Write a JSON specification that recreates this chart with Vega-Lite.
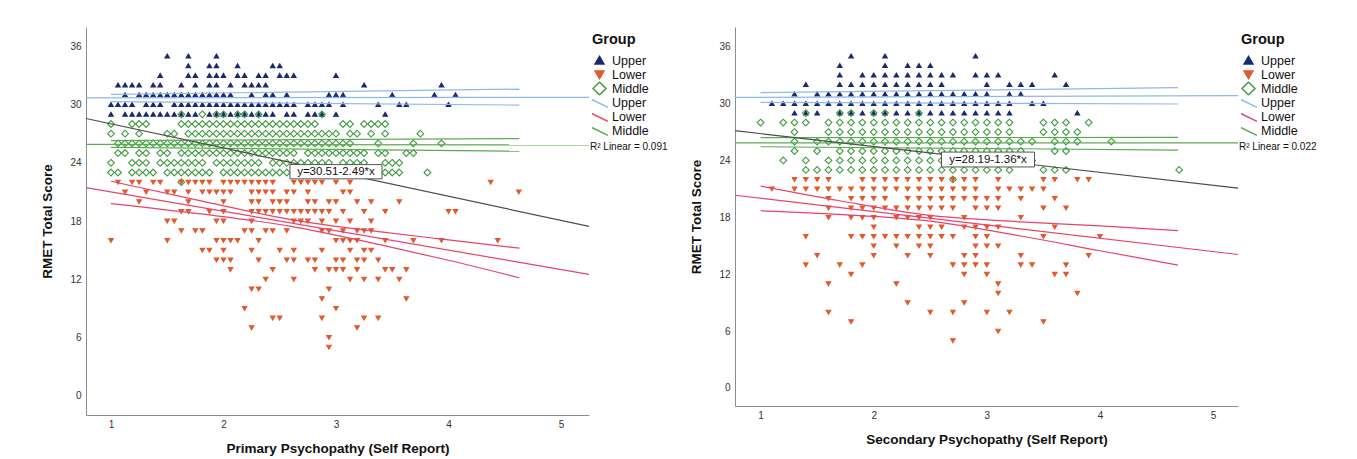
{
"$schema":"https://vega.github.io/schema/vega-lite/v6.json",
"padding":{"left":40,"top":27,"right":5,"bottom":5},
"config":{
 "font":"Liberation Sans",
 "view":{"stroke":null},
 "concat":{"spacing":21},
 "axis":{"domainColor":"#8c8c8c","domainWidth":1,"ticks":false,"grid":false,"labelFontSize":10,"labelColor":"#333333","titleFontSize":13.5,"titleFontWeight":"bold","titleColor":"#111111","labelFont":"Liberation Sans","titleFont":"Liberation Sans"},
 "legend":{"titleFontSize":14.5,"titleFontWeight":"bold","titleColor":"#111111","labelFontSize":12.5,"labelColor":"#111111","symbolSize":169,"symbolStrokeWidth":1.5,"clipHeight":14,"rowPadding":0,"titlePadding":6,"padding":6,"offset":-6,"labelOffset":5,"labelFont":"Liberation Sans","titleFont":"Liberation Sans"}
},
"datasets":{
"pri":[
{"x":1.5,"y":35,"g":"Upper"},{"x":1.6875,"y":35,"g":"Upper"},{"x":1.9375,"y":35,"g":"Upper"},
{"x":1.6875,"y":34,"g":"Upper"},{"x":1.875,"y":34,"g":"Upper"},{"x":1.9375,"y":34,"g":"Upper"},{"x":2.125,"y":34,"g":"Upper"},{"x":2.4375,"y":34,"g":"Upper"},{"x":2.5,"y":34,"g":"Upper"},
{"x":1.4375,"y":33,"g":"Upper"},{"x":1.6875,"y":33,"g":"Upper"},{"x":1.75,"y":33,"g":"Upper"},{"x":1.875,"y":33,"g":"Upper"},{"x":1.9375,"y":33,"g":"Upper"},{"x":2,"y":33,"g":"Upper"},{"x":2.125,"y":33,"g":"Upper"},{"x":2.1875,"y":33,"g":"Upper"},{"x":2.3125,"y":33,"g":"Upper"},{"x":2.375,"y":33,"g":"Upper"},{"x":2.5,"y":33,"g":"Upper"},{"x":2.5625,"y":33,"g":"Upper"},{"x":2.625,"y":33,"g":"Upper"},{"x":3,"y":33,"g":"Upper"},
{"x":1.0625,"y":32,"g":"Upper"},{"x":1.125,"y":32,"g":"Upper"},{"x":1.1875,"y":32,"g":"Upper"},{"x":1.25,"y":32,"g":"Upper"},{"x":1.375,"y":32,"g":"Upper"},{"x":1.4375,"y":32,"g":"Upper"},{"x":1.625,"y":32,"g":"Upper"},{"x":1.75,"y":32,"g":"Upper"},{"x":1.875,"y":32,"g":"Upper"},{"x":1.9375,"y":32,"g":"Upper"},{"x":2.0625,"y":32,"g":"Upper"},{"x":2.1875,"y":32,"g":"Upper"},{"x":2.25,"y":32,"g":"Upper"},{"x":2.3125,"y":32,"g":"Upper"},{"x":2.375,"y":32,"g":"Upper"},{"x":3.25,"y":32,"g":"Upper"},{"x":3.9375,"y":32,"g":"Upper"},
{"x":1.125,"y":31,"g":"Upper"},{"x":1.25,"y":31,"g":"Upper"},{"x":1.3125,"y":31,"g":"Upper"},{"x":1.375,"y":31,"g":"Upper"},{"x":1.4375,"y":31,"g":"Upper"},{"x":1.5,"y":31,"g":"Upper"},{"x":1.5625,"y":31,"g":"Upper"},{"x":1.625,"y":31,"g":"Upper"},{"x":1.6875,"y":31,"g":"Upper"},{"x":1.75,"y":31,"g":"Upper"},{"x":1.8125,"y":31,"g":"Upper"},{"x":1.875,"y":31,"g":"Upper"},{"x":1.9375,"y":31,"g":"Upper"},{"x":2,"y":31,"g":"Upper"},{"x":2.0625,"y":31,"g":"Upper"},{"x":2.25,"y":31,"g":"Upper"},{"x":2.375,"y":31,"g":"Upper"},{"x":2.4375,"y":31,"g":"Upper"},{"x":2.5625,"y":31,"g":"Upper"},{"x":2.9375,"y":31,"g":"Upper"},{"x":3,"y":31,"g":"Upper"},{"x":3.0625,"y":31,"g":"Upper"},{"x":3.5,"y":31,"g":"Upper"},{"x":3.875,"y":31,"g":"Upper"},{"x":4.0625,"y":31,"g":"Upper"},
{"x":1,"y":30,"g":"Upper"},{"x":1.0625,"y":30,"g":"Upper"},{"x":1.125,"y":30,"g":"Upper"},{"x":1.1875,"y":30,"g":"Upper"},{"x":1.3125,"y":30,"g":"Upper"},{"x":1.375,"y":30,"g":"Upper"},{"x":1.4375,"y":30,"g":"Upper"},{"x":1.5625,"y":30,"g":"Upper"},{"x":1.625,"y":30,"g":"Upper"},{"x":1.6875,"y":30,"g":"Upper"},{"x":1.75,"y":30,"g":"Upper"},{"x":1.8125,"y":30,"g":"Upper"},{"x":1.875,"y":30,"g":"Upper"},{"x":1.9375,"y":30,"g":"Upper"},{"x":2,"y":30,"g":"Upper"},{"x":2.0625,"y":30,"g":"Upper"},{"x":2.125,"y":30,"g":"Upper"},{"x":2.1875,"y":30,"g":"Upper"},{"x":2.25,"y":30,"g":"Upper"},{"x":2.3125,"y":30,"g":"Upper"},{"x":2.375,"y":30,"g":"Upper"},{"x":2.4375,"y":30,"g":"Upper"},{"x":2.5,"y":30,"g":"Upper"},{"x":2.5625,"y":30,"g":"Upper"},{"x":2.625,"y":30,"g":"Upper"},{"x":2.75,"y":30,"g":"Upper"},{"x":2.8125,"y":30,"g":"Upper"},{"x":2.875,"y":30,"g":"Upper"},{"x":2.9375,"y":30,"g":"Upper"},{"x":3.0625,"y":30,"g":"Upper"},{"x":3.375,"y":30,"g":"Upper"},{"x":3.5625,"y":30,"g":"Upper"},{"x":3.625,"y":30,"g":"Upper"},{"x":4,"y":30,"g":"Upper"},
{"x":1,"y":29,"g":"Upper"},{"x":1.125,"y":29,"g":"Upper"},{"x":1.1875,"y":29,"g":"Upper"},{"x":1.25,"y":29,"g":"Upper"},{"x":1.3125,"y":29,"g":"Upper"},{"x":1.375,"y":29,"g":"Upper"},{"x":1.4375,"y":29,"g":"Upper"},{"x":1.5,"y":29,"g":"Upper"},{"x":1.5625,"y":29,"g":"Upper"},{"x":1.625,"y":29,"g":"Upper"},{"x":1.6875,"y":29,"g":"Upper"},{"x":1.75,"y":29,"g":"Upper"},{"x":1.875,"y":29,"g":"Upper"},{"x":1.9375,"y":29,"g":"Upper"},{"x":2,"y":29,"g":"Upper"},{"x":2.0625,"y":29,"g":"Upper"},{"x":2.125,"y":29,"g":"Upper"},{"x":2.1875,"y":29,"g":"Upper"},{"x":2.25,"y":29,"g":"Upper"},{"x":2.3125,"y":29,"g":"Upper"},{"x":2.375,"y":29,"g":"Upper"},{"x":2.4375,"y":29,"g":"Upper"},{"x":2.5625,"y":29,"g":"Upper"},{"x":2.625,"y":29,"g":"Upper"},{"x":2.75,"y":29,"g":"Upper"},{"x":2.8125,"y":29,"g":"Upper"},{"x":2.875,"y":29,"g":"Upper"},{"x":3,"y":29,"g":"Upper"},{"x":3.4375,"y":29,"g":"Upper"},
{"x":1.625,"y":29,"g":"Middle"},{"x":1.8125,"y":29,"g":"Middle"},{"x":1.9375,"y":29,"g":"Middle"},{"x":2,"y":29,"g":"Middle"},{"x":2.125,"y":29,"g":"Middle"},{"x":2.1875,"y":29,"g":"Middle"},{"x":2.3125,"y":29,"g":"Middle"},{"x":2.875,"y":29,"g":"Middle"},
{"x":1,"y":28,"g":"Middle"},{"x":1.1875,"y":28,"g":"Middle"},{"x":1.25,"y":28,"g":"Middle"},{"x":1.3125,"y":28,"g":"Middle"},{"x":1.625,"y":28,"g":"Middle"},{"x":1.6875,"y":28,"g":"Middle"},{"x":1.75,"y":28,"g":"Middle"},{"x":1.8125,"y":28,"g":"Middle"},{"x":1.875,"y":28,"g":"Middle"},{"x":1.9375,"y":28,"g":"Middle"},{"x":2,"y":28,"g":"Middle"},{"x":2.0625,"y":28,"g":"Middle"},{"x":2.125,"y":28,"g":"Middle"},{"x":2.1875,"y":28,"g":"Middle"},{"x":2.25,"y":28,"g":"Middle"},{"x":2.3125,"y":28,"g":"Middle"},{"x":2.375,"y":28,"g":"Middle"},{"x":2.4375,"y":28,"g":"Middle"},{"x":2.5,"y":28,"g":"Middle"},{"x":2.5625,"y":28,"g":"Middle"},{"x":2.625,"y":28,"g":"Middle"},{"x":2.6875,"y":28,"g":"Middle"},{"x":2.75,"y":28,"g":"Middle"},{"x":2.8125,"y":28,"g":"Middle"},{"x":3.0625,"y":28,"g":"Middle"},{"x":3.125,"y":28,"g":"Middle"},{"x":3.25,"y":28,"g":"Middle"},{"x":3.3125,"y":28,"g":"Middle"},{"x":3.375,"y":28,"g":"Middle"},{"x":3.4375,"y":28,"g":"Middle"},
{"x":1,"y":27,"g":"Middle"},{"x":1.125,"y":27,"g":"Middle"},{"x":1.25,"y":27,"g":"Middle"},{"x":1.5,"y":27,"g":"Middle"},{"x":1.5625,"y":27,"g":"Middle"},{"x":1.6875,"y":27,"g":"Middle"},{"x":1.75,"y":27,"g":"Middle"},{"x":1.8125,"y":27,"g":"Middle"},{"x":1.875,"y":27,"g":"Middle"},{"x":1.9375,"y":27,"g":"Middle"},{"x":2,"y":27,"g":"Middle"},{"x":2.0625,"y":27,"g":"Middle"},{"x":2.125,"y":27,"g":"Middle"},{"x":2.1875,"y":27,"g":"Middle"},{"x":2.25,"y":27,"g":"Middle"},{"x":2.3125,"y":27,"g":"Middle"},{"x":2.375,"y":27,"g":"Middle"},{"x":2.4375,"y":27,"g":"Middle"},{"x":2.5,"y":27,"g":"Middle"},{"x":2.5625,"y":27,"g":"Middle"},{"x":2.625,"y":27,"g":"Middle"},{"x":2.6875,"y":27,"g":"Middle"},{"x":2.75,"y":27,"g":"Middle"},{"x":2.8125,"y":27,"g":"Middle"},{"x":2.875,"y":27,"g":"Middle"},{"x":2.9375,"y":27,"g":"Middle"},{"x":3,"y":27,"g":"Middle"},{"x":3.125,"y":27,"g":"Middle"},{"x":3.1875,"y":27,"g":"Middle"},{"x":3.3125,"y":27,"g":"Middle"},{"x":3.4375,"y":27,"g":"Middle"},{"x":3.75,"y":27,"g":"Middle"},
{"x":1.0625,"y":26,"g":"Middle"},{"x":1.125,"y":26,"g":"Middle"},{"x":1.1875,"y":26,"g":"Middle"},{"x":1.25,"y":26,"g":"Middle"},{"x":1.3125,"y":26,"g":"Middle"},{"x":1.375,"y":26,"g":"Middle"},{"x":1.4375,"y":26,"g":"Middle"},{"x":1.5,"y":26,"g":"Middle"},{"x":1.5625,"y":26,"g":"Middle"},{"x":1.625,"y":26,"g":"Middle"},{"x":1.6875,"y":26,"g":"Middle"},{"x":1.75,"y":26,"g":"Middle"},{"x":1.8125,"y":26,"g":"Middle"},{"x":1.875,"y":26,"g":"Middle"},{"x":1.9375,"y":26,"g":"Middle"},{"x":2,"y":26,"g":"Middle"},{"x":2.0625,"y":26,"g":"Middle"},{"x":2.125,"y":26,"g":"Middle"},{"x":2.1875,"y":26,"g":"Middle"},{"x":2.25,"y":26,"g":"Middle"},{"x":2.3125,"y":26,"g":"Middle"},{"x":2.375,"y":26,"g":"Middle"},{"x":2.4375,"y":26,"g":"Middle"},{"x":2.5,"y":26,"g":"Middle"},{"x":2.5625,"y":26,"g":"Middle"},{"x":2.625,"y":26,"g":"Middle"},{"x":2.6875,"y":26,"g":"Middle"},{"x":2.75,"y":26,"g":"Middle"},{"x":2.8125,"y":26,"g":"Middle"},{"x":2.875,"y":26,"g":"Middle"},{"x":2.9375,"y":26,"g":"Middle"},{"x":3,"y":26,"g":"Middle"},{"x":3.0625,"y":26,"g":"Middle"},{"x":3.125,"y":26,"g":"Middle"},{"x":3.375,"y":26,"g":"Middle"},{"x":3.6875,"y":26,"g":"Middle"},{"x":3.9375,"y":26,"g":"Middle"},
{"x":1.0625,"y":25,"g":"Middle"},{"x":1.125,"y":25,"g":"Middle"},{"x":1.25,"y":25,"g":"Middle"},{"x":1.3125,"y":25,"g":"Middle"},{"x":1.4375,"y":25,"g":"Middle"},{"x":1.5,"y":25,"g":"Middle"},{"x":1.625,"y":25,"g":"Middle"},{"x":1.6875,"y":25,"g":"Middle"},{"x":1.75,"y":25,"g":"Middle"},{"x":1.8125,"y":25,"g":"Middle"},{"x":1.875,"y":25,"g":"Middle"},{"x":1.9375,"y":25,"g":"Middle"},{"x":2,"y":25,"g":"Middle"},{"x":2.0625,"y":25,"g":"Middle"},{"x":2.125,"y":25,"g":"Middle"},{"x":2.1875,"y":25,"g":"Middle"},{"x":2.25,"y":25,"g":"Middle"},{"x":2.3125,"y":25,"g":"Middle"},{"x":2.375,"y":25,"g":"Middle"},{"x":2.4375,"y":25,"g":"Middle"},{"x":2.5,"y":25,"g":"Middle"},{"x":2.5625,"y":25,"g":"Middle"},{"x":2.625,"y":25,"g":"Middle"},{"x":2.75,"y":25,"g":"Middle"},{"x":2.8125,"y":25,"g":"Middle"},{"x":2.875,"y":25,"g":"Middle"},{"x":2.9375,"y":25,"g":"Middle"},{"x":3,"y":25,"g":"Middle"},{"x":3.0625,"y":25,"g":"Middle"},{"x":3.125,"y":25,"g":"Middle"},{"x":3.1875,"y":25,"g":"Middle"},{"x":3.25,"y":25,"g":"Middle"},{"x":3.375,"y":25,"g":"Middle"},{"x":3.4375,"y":25,"g":"Middle"},{"x":3.625,"y":25,"g":"Middle"},{"x":3.6875,"y":25,"g":"Middle"},
{"x":1,"y":24,"g":"Middle"},{"x":1.1875,"y":24,"g":"Middle"},{"x":1.25,"y":24,"g":"Middle"},{"x":1.3125,"y":24,"g":"Middle"},{"x":1.4375,"y":24,"g":"Middle"},{"x":1.5,"y":24,"g":"Middle"},{"x":1.5625,"y":24,"g":"Middle"},{"x":1.625,"y":24,"g":"Middle"},{"x":1.6875,"y":24,"g":"Middle"},{"x":1.75,"y":24,"g":"Middle"},{"x":1.8125,"y":24,"g":"Middle"},{"x":1.9375,"y":24,"g":"Middle"},{"x":2,"y":24,"g":"Middle"},{"x":2.0625,"y":24,"g":"Middle"},{"x":2.125,"y":24,"g":"Middle"},{"x":2.1875,"y":24,"g":"Middle"},{"x":2.25,"y":24,"g":"Middle"},{"x":2.3125,"y":24,"g":"Middle"},{"x":2.4375,"y":24,"g":"Middle"},{"x":2.5,"y":24,"g":"Middle"},{"x":2.5625,"y":24,"g":"Middle"},{"x":2.625,"y":24,"g":"Middle"},{"x":2.6875,"y":24,"g":"Middle"},{"x":2.75,"y":24,"g":"Middle"},{"x":2.8125,"y":24,"g":"Middle"},{"x":2.875,"y":24,"g":"Middle"},{"x":2.9375,"y":24,"g":"Middle"},{"x":3.0625,"y":24,"g":"Middle"},{"x":3.125,"y":24,"g":"Middle"},{"x":3.1875,"y":24,"g":"Middle"},{"x":3.25,"y":24,"g":"Middle"},{"x":3.4375,"y":24,"g":"Middle"},{"x":3.5,"y":24,"g":"Middle"},{"x":3.5625,"y":24,"g":"Middle"},
{"x":1,"y":23,"g":"Middle"},{"x":1.0625,"y":23,"g":"Middle"},{"x":1.1875,"y":23,"g":"Middle"},{"x":1.25,"y":23,"g":"Middle"},{"x":1.3125,"y":23,"g":"Middle"},{"x":1.375,"y":23,"g":"Middle"},{"x":1.5,"y":23,"g":"Middle"},{"x":1.5625,"y":23,"g":"Middle"},{"x":1.625,"y":23,"g":"Middle"},{"x":1.6875,"y":23,"g":"Middle"},{"x":1.75,"y":23,"g":"Middle"},{"x":1.8125,"y":23,"g":"Middle"},{"x":1.875,"y":23,"g":"Middle"},{"x":2,"y":23,"g":"Middle"},{"x":2.0625,"y":23,"g":"Middle"},{"x":2.125,"y":23,"g":"Middle"},{"x":2.1875,"y":23,"g":"Middle"},{"x":2.25,"y":23,"g":"Middle"},{"x":2.3125,"y":23,"g":"Middle"},{"x":2.375,"y":23,"g":"Middle"},{"x":2.4375,"y":23,"g":"Middle"},{"x":2.5,"y":23,"g":"Middle"},{"x":2.5625,"y":23,"g":"Middle"},{"x":2.625,"y":23,"g":"Middle"},{"x":2.6875,"y":23,"g":"Middle"},{"x":2.75,"y":23,"g":"Middle"},{"x":2.8125,"y":23,"g":"Middle"},{"x":2.875,"y":23,"g":"Middle"},{"x":2.9375,"y":23,"g":"Middle"},{"x":3,"y":23,"g":"Middle"},{"x":3.125,"y":23,"g":"Middle"},{"x":3.4375,"y":23,"g":"Middle"},{"x":3.5,"y":23,"g":"Middle"},{"x":3.5625,"y":23,"g":"Middle"},{"x":3.8125,"y":23,"g":"Middle"},
{"x":1.625,"y":22,"g":"Middle"},
{"x":1.0625,"y":22,"g":"Lower"},{"x":1.1875,"y":22,"g":"Lower"},{"x":1.25,"y":22,"g":"Lower"},{"x":1.375,"y":22,"g":"Lower"},{"x":1.4375,"y":22,"g":"Lower"},{"x":1.625,"y":22,"g":"Lower"},{"x":1.6875,"y":22,"g":"Lower"},{"x":1.75,"y":22,"g":"Lower"},{"x":1.8125,"y":22,"g":"Lower"},{"x":1.875,"y":22,"g":"Lower"},{"x":2,"y":22,"g":"Lower"},{"x":2.0625,"y":22,"g":"Lower"},{"x":2.125,"y":22,"g":"Lower"},{"x":2.1875,"y":22,"g":"Lower"},{"x":2.25,"y":22,"g":"Lower"},{"x":2.3125,"y":22,"g":"Lower"},{"x":2.375,"y":22,"g":"Lower"},{"x":2.4375,"y":22,"g":"Lower"},{"x":2.625,"y":22,"g":"Lower"},{"x":2.6875,"y":22,"g":"Lower"},{"x":2.75,"y":22,"g":"Lower"},{"x":2.8125,"y":22,"g":"Lower"},{"x":2.875,"y":22,"g":"Lower"},{"x":3,"y":22,"g":"Lower"},{"x":3.125,"y":22,"g":"Lower"},{"x":4.375,"y":22,"g":"Lower"},
{"x":1.125,"y":21,"g":"Lower"},{"x":1.3125,"y":21,"g":"Lower"},{"x":1.5,"y":21,"g":"Lower"},{"x":1.5625,"y":21,"g":"Lower"},{"x":1.6875,"y":21,"g":"Lower"},{"x":1.8125,"y":21,"g":"Lower"},{"x":1.875,"y":21,"g":"Lower"},{"x":1.9375,"y":21,"g":"Lower"},{"x":2,"y":21,"g":"Lower"},{"x":2.0625,"y":21,"g":"Lower"},{"x":2.25,"y":21,"g":"Lower"},{"x":2.3125,"y":21,"g":"Lower"},{"x":2.375,"y":21,"g":"Lower"},{"x":2.4375,"y":21,"g":"Lower"},{"x":2.5625,"y":21,"g":"Lower"},{"x":2.625,"y":21,"g":"Lower"},{"x":2.75,"y":21,"g":"Lower"},{"x":3.0625,"y":21,"g":"Lower"},{"x":3.125,"y":21,"g":"Lower"},{"x":4.625,"y":21,"g":"Lower"},
{"x":1.25,"y":20,"g":"Lower"},{"x":1.6875,"y":20,"g":"Lower"},{"x":2,"y":20,"g":"Lower"},{"x":2.25,"y":20,"g":"Lower"},{"x":2.3125,"y":20,"g":"Lower"},{"x":2.4375,"y":20,"g":"Lower"},{"x":2.5,"y":20,"g":"Lower"},{"x":2.5625,"y":20,"g":"Lower"},{"x":2.75,"y":20,"g":"Lower"},{"x":2.8125,"y":20,"g":"Lower"},{"x":2.9375,"y":20,"g":"Lower"},{"x":3,"y":20,"g":"Lower"},{"x":3.1875,"y":20,"g":"Lower"},{"x":3.3125,"y":20,"g":"Lower"},{"x":3.5625,"y":20,"g":"Lower"},
{"x":1.625,"y":19,"g":"Lower"},{"x":1.6875,"y":19,"g":"Lower"},{"x":1.875,"y":19,"g":"Lower"},{"x":2,"y":19,"g":"Lower"},{"x":2.25,"y":19,"g":"Lower"},{"x":2.3125,"y":19,"g":"Lower"},{"x":2.375,"y":19,"g":"Lower"},{"x":2.4375,"y":19,"g":"Lower"},{"x":2.5,"y":19,"g":"Lower"},{"x":2.5625,"y":19,"g":"Lower"},{"x":2.625,"y":19,"g":"Lower"},{"x":2.6875,"y":19,"g":"Lower"},{"x":2.75,"y":19,"g":"Lower"},{"x":2.8125,"y":19,"g":"Lower"},{"x":2.875,"y":19,"g":"Lower"},{"x":2.9375,"y":19,"g":"Lower"},{"x":3.0625,"y":19,"g":"Lower"},{"x":3.25,"y":19,"g":"Lower"},{"x":3.4375,"y":19,"g":"Lower"},{"x":4,"y":19,"g":"Lower"},{"x":4.0625,"y":19,"g":"Lower"},
{"x":1.5,"y":18,"g":"Lower"},{"x":1.5625,"y":18,"g":"Lower"},{"x":1.9375,"y":18,"g":"Lower"},{"x":2,"y":18,"g":"Lower"},{"x":2.25,"y":18,"g":"Lower"},{"x":2.625,"y":18,"g":"Lower"},{"x":2.6875,"y":18,"g":"Lower"},{"x":2.75,"y":18,"g":"Lower"},{"x":2.875,"y":18,"g":"Lower"},{"x":3,"y":18,"g":"Lower"},{"x":3.125,"y":18,"g":"Lower"},{"x":3.3125,"y":18,"g":"Lower"},
{"x":1.625,"y":17,"g":"Lower"},{"x":1.75,"y":17,"g":"Lower"},{"x":1.8125,"y":17,"g":"Lower"},{"x":2.1875,"y":17,"g":"Lower"},{"x":2.25,"y":17,"g":"Lower"},{"x":2.375,"y":17,"g":"Lower"},{"x":2.4375,"y":17,"g":"Lower"},{"x":2.5625,"y":17,"g":"Lower"},{"x":2.875,"y":17,"g":"Lower"},{"x":2.9375,"y":17,"g":"Lower"},{"x":3.0625,"y":17,"g":"Lower"},{"x":3.1875,"y":17,"g":"Lower"},{"x":3.25,"y":17,"g":"Lower"},{"x":3.3125,"y":17,"g":"Lower"},
{"x":1,"y":16,"g":"Lower"},{"x":1.5,"y":16,"g":"Lower"},{"x":1.9375,"y":16,"g":"Lower"},{"x":2,"y":16,"g":"Lower"},{"x":2.0625,"y":16,"g":"Lower"},{"x":2.125,"y":16,"g":"Lower"},{"x":2.3125,"y":16,"g":"Lower"},{"x":3,"y":16,"g":"Lower"},{"x":3.0625,"y":16,"g":"Lower"},{"x":3.125,"y":16,"g":"Lower"},{"x":3.1875,"y":16,"g":"Lower"},{"x":3.4375,"y":16,"g":"Lower"},{"x":3.6875,"y":16,"g":"Lower"},{"x":3.9375,"y":16,"g":"Lower"},{"x":4.4375,"y":16,"g":"Lower"},
{"x":1.8125,"y":15,"g":"Lower"},{"x":1.875,"y":15,"g":"Lower"},{"x":2,"y":15,"g":"Lower"},{"x":2.25,"y":15,"g":"Lower"},{"x":2.5,"y":15,"g":"Lower"},{"x":2.625,"y":15,"g":"Lower"},{"x":2.875,"y":15,"g":"Lower"},{"x":3.125,"y":15,"g":"Lower"},{"x":3.25,"y":15,"g":"Lower"},{"x":3.3125,"y":15,"g":"Lower"},
{"x":1.9375,"y":14,"g":"Lower"},{"x":2,"y":14,"g":"Lower"},{"x":2.0625,"y":14,"g":"Lower"},{"x":2.3125,"y":14,"g":"Lower"},{"x":2.5625,"y":14,"g":"Lower"},{"x":2.625,"y":14,"g":"Lower"},{"x":2.75,"y":14,"g":"Lower"},{"x":2.8125,"y":14,"g":"Lower"},{"x":3,"y":14,"g":"Lower"},{"x":3.0625,"y":14,"g":"Lower"},{"x":3.1875,"y":14,"g":"Lower"},{"x":3.25,"y":14,"g":"Lower"},{"x":3.375,"y":14,"g":"Lower"},
{"x":2.0625,"y":13,"g":"Lower"},{"x":2.4375,"y":13,"g":"Lower"},{"x":2.8125,"y":13,"g":"Lower"},{"x":2.9375,"y":13,"g":"Lower"},{"x":3,"y":13,"g":"Lower"},{"x":3.0625,"y":13,"g":"Lower"},{"x":3.1875,"y":13,"g":"Lower"},{"x":3.4375,"y":13,"g":"Lower"},{"x":3.5,"y":13,"g":"Lower"},{"x":3.625,"y":13,"g":"Lower"},
{"x":2.375,"y":12,"g":"Lower"},{"x":2.625,"y":12,"g":"Lower"},{"x":3.125,"y":12,"g":"Lower"},{"x":3.25,"y":12,"g":"Lower"},{"x":3.375,"y":12,"g":"Lower"},{"x":3.5625,"y":12,"g":"Lower"},
{"x":2.25,"y":11,"g":"Lower"},{"x":2.3125,"y":11,"g":"Lower"},{"x":2.9375,"y":11,"g":"Lower"},
{"x":2.875,"y":10,"g":"Lower"},{"x":3.625,"y":10,"g":"Lower"},
{"x":2.1875,"y":9,"g":"Lower"},{"x":3,"y":9,"g":"Lower"},
{"x":2.4375,"y":8,"g":"Lower"},{"x":2.5,"y":8,"g":"Lower"},{"x":2.875,"y":8,"g":"Lower"},{"x":3.25,"y":8,"g":"Lower"},{"x":3.375,"y":8,"g":"Lower"},
{"x":2.25,"y":7,"g":"Lower"},{"x":3.1875,"y":7,"g":"Lower"},
{"x":2.9375,"y":6,"g":"Lower"},{"x":2.9375,"y":5,"g":"Lower"}
],
"sec":[
{"x":1.8,"y":35,"g":"Upper"},{"x":2.1,"y":35,"g":"Upper"},{"x":2.9,"y":35,"g":"Upper"},
{"x":1.7,"y":34,"g":"Upper"},{"x":2.1,"y":34,"g":"Upper"},{"x":2.3,"y":34,"g":"Upper"},{"x":2.4,"y":34,"g":"Upper"},{"x":2.5,"y":34,"g":"Upper"},
{"x":1.7,"y":33,"g":"Upper"},{"x":1.9,"y":33,"g":"Upper"},{"x":2.0,"y":33,"g":"Upper"},{"x":2.1,"y":33,"g":"Upper"},{"x":2.2,"y":33,"g":"Upper"},{"x":2.3,"y":33,"g":"Upper"},{"x":2.4,"y":33,"g":"Upper"},{"x":2.5,"y":33,"g":"Upper"},{"x":2.6,"y":33,"g":"Upper"},{"x":2.7,"y":33,"g":"Upper"},{"x":2.9,"y":33,"g":"Upper"},{"x":3.0,"y":33,"g":"Upper"},{"x":3.1,"y":33,"g":"Upper"},{"x":3.6,"y":33,"g":"Upper"},
{"x":1.4,"y":32,"g":"Upper"},{"x":1.7,"y":32,"g":"Upper"},{"x":1.8,"y":32,"g":"Upper"},{"x":1.9,"y":32,"g":"Upper"},{"x":2.0,"y":32,"g":"Upper"},{"x":2.1,"y":32,"g":"Upper"},{"x":2.2,"y":32,"g":"Upper"},{"x":2.3,"y":32,"g":"Upper"},{"x":2.4,"y":32,"g":"Upper"},{"x":2.5,"y":32,"g":"Upper"},{"x":2.6,"y":32,"g":"Upper"},{"x":3.0,"y":32,"g":"Upper"},{"x":3.2,"y":32,"g":"Upper"},{"x":3.3,"y":32,"g":"Upper"},{"x":3.4,"y":32,"g":"Upper"},{"x":3.7,"y":32,"g":"Upper"},
{"x":1.3,"y":31,"g":"Upper"},{"x":1.5,"y":31,"g":"Upper"},{"x":1.6,"y":31,"g":"Upper"},{"x":1.7,"y":31,"g":"Upper"},{"x":1.8,"y":31,"g":"Upper"},{"x":1.9,"y":31,"g":"Upper"},{"x":2.0,"y":31,"g":"Upper"},{"x":2.1,"y":31,"g":"Upper"},{"x":2.2,"y":31,"g":"Upper"},{"x":2.3,"y":31,"g":"Upper"},{"x":2.4,"y":31,"g":"Upper"},{"x":2.5,"y":31,"g":"Upper"},{"x":2.6,"y":31,"g":"Upper"},{"x":2.7,"y":31,"g":"Upper"},{"x":2.8,"y":31,"g":"Upper"},{"x":2.9,"y":31,"g":"Upper"},{"x":3.0,"y":31,"g":"Upper"},{"x":3.2,"y":31,"g":"Upper"},{"x":3.3,"y":31,"g":"Upper"},
{"x":1.1,"y":30,"g":"Upper"},{"x":1.2,"y":30,"g":"Upper"},{"x":1.3,"y":30,"g":"Upper"},{"x":1.4,"y":30,"g":"Upper"},{"x":1.5,"y":30,"g":"Upper"},{"x":1.6,"y":30,"g":"Upper"},{"x":1.7,"y":30,"g":"Upper"},{"x":1.8,"y":30,"g":"Upper"},{"x":1.9,"y":30,"g":"Upper"},{"x":2.0,"y":30,"g":"Upper"},{"x":2.1,"y":30,"g":"Upper"},{"x":2.2,"y":30,"g":"Upper"},{"x":2.3,"y":30,"g":"Upper"},{"x":2.4,"y":30,"g":"Upper"},{"x":2.5,"y":30,"g":"Upper"},{"x":2.6,"y":30,"g":"Upper"},{"x":2.7,"y":30,"g":"Upper"},{"x":2.8,"y":30,"g":"Upper"},{"x":2.9,"y":30,"g":"Upper"},{"x":3.0,"y":30,"g":"Upper"},{"x":3.1,"y":30,"g":"Upper"},{"x":3.2,"y":30,"g":"Upper"},{"x":3.4,"y":30,"g":"Upper"},{"x":3.5,"y":30,"g":"Upper"},
{"x":1.3,"y":29,"g":"Upper"},{"x":1.4,"y":29,"g":"Upper"},{"x":1.5,"y":29,"g":"Upper"},{"x":1.7,"y":29,"g":"Upper"},{"x":1.8,"y":29,"g":"Upper"},{"x":1.9,"y":29,"g":"Upper"},{"x":2.0,"y":29,"g":"Upper"},{"x":2.1,"y":29,"g":"Upper"},{"x":2.2,"y":29,"g":"Upper"},{"x":2.3,"y":29,"g":"Upper"},{"x":2.4,"y":29,"g":"Upper"},{"x":2.5,"y":29,"g":"Upper"},{"x":2.6,"y":29,"g":"Upper"},{"x":2.7,"y":29,"g":"Upper"},{"x":2.8,"y":29,"g":"Upper"},{"x":2.9,"y":29,"g":"Upper"},{"x":3.0,"y":29,"g":"Upper"},{"x":3.1,"y":29,"g":"Upper"},{"x":3.2,"y":29,"g":"Upper"},{"x":3.8,"y":29,"g":"Upper"},
{"x":1.4,"y":29,"g":"Middle"},{"x":1.7,"y":29,"g":"Middle"},{"x":1.8,"y":29,"g":"Middle"},{"x":2.0,"y":29,"g":"Middle"},{"x":2.1,"y":29,"g":"Middle"},{"x":2.4,"y":29,"g":"Middle"},
{"x":1.0,"y":28,"g":"Middle"},{"x":1.2,"y":28,"g":"Middle"},{"x":1.3,"y":28,"g":"Middle"},{"x":1.4,"y":28,"g":"Middle"},{"x":1.6,"y":28,"g":"Middle"},{"x":1.7,"y":28,"g":"Middle"},{"x":1.8,"y":28,"g":"Middle"},{"x":1.9,"y":28,"g":"Middle"},{"x":2.0,"y":28,"g":"Middle"},{"x":2.1,"y":28,"g":"Middle"},{"x":2.2,"y":28,"g":"Middle"},{"x":2.3,"y":28,"g":"Middle"},{"x":2.4,"y":28,"g":"Middle"},{"x":2.5,"y":28,"g":"Middle"},{"x":2.6,"y":28,"g":"Middle"},{"x":2.7,"y":28,"g":"Middle"},{"x":2.8,"y":28,"g":"Middle"},{"x":2.9,"y":28,"g":"Middle"},{"x":3.0,"y":28,"g":"Middle"},{"x":3.1,"y":28,"g":"Middle"},{"x":3.2,"y":28,"g":"Middle"},{"x":3.5,"y":28,"g":"Middle"},{"x":3.6,"y":28,"g":"Middle"},{"x":3.7,"y":28,"g":"Middle"},{"x":3.9,"y":28,"g":"Middle"},
{"x":1.3,"y":27,"g":"Middle"},{"x":1.6,"y":27,"g":"Middle"},{"x":1.7,"y":27,"g":"Middle"},{"x":1.8,"y":27,"g":"Middle"},{"x":1.9,"y":27,"g":"Middle"},{"x":2.0,"y":27,"g":"Middle"},{"x":2.1,"y":27,"g":"Middle"},{"x":2.2,"y":27,"g":"Middle"},{"x":2.3,"y":27,"g":"Middle"},{"x":2.4,"y":27,"g":"Middle"},{"x":2.5,"y":27,"g":"Middle"},{"x":2.6,"y":27,"g":"Middle"},{"x":2.7,"y":27,"g":"Middle"},{"x":2.8,"y":27,"g":"Middle"},{"x":2.9,"y":27,"g":"Middle"},{"x":3.0,"y":27,"g":"Middle"},{"x":3.1,"y":27,"g":"Middle"},{"x":3.2,"y":27,"g":"Middle"},{"x":3.5,"y":27,"g":"Middle"},{"x":3.6,"y":27,"g":"Middle"},{"x":3.7,"y":27,"g":"Middle"},{"x":3.8,"y":27,"g":"Middle"},
{"x":1.3,"y":26,"g":"Middle"},{"x":1.5,"y":26,"g":"Middle"},{"x":1.6,"y":26,"g":"Middle"},{"x":1.7,"y":26,"g":"Middle"},{"x":1.8,"y":26,"g":"Middle"},{"x":1.9,"y":26,"g":"Middle"},{"x":2.0,"y":26,"g":"Middle"},{"x":2.1,"y":26,"g":"Middle"},{"x":2.2,"y":26,"g":"Middle"},{"x":2.3,"y":26,"g":"Middle"},{"x":2.4,"y":26,"g":"Middle"},{"x":2.5,"y":26,"g":"Middle"},{"x":2.6,"y":26,"g":"Middle"},{"x":2.7,"y":26,"g":"Middle"},{"x":2.8,"y":26,"g":"Middle"},{"x":2.9,"y":26,"g":"Middle"},{"x":3.0,"y":26,"g":"Middle"},{"x":3.1,"y":26,"g":"Middle"},{"x":3.2,"y":26,"g":"Middle"},{"x":3.3,"y":26,"g":"Middle"},{"x":3.4,"y":26,"g":"Middle"},{"x":3.6,"y":26,"g":"Middle"},{"x":3.7,"y":26,"g":"Middle"},{"x":3.8,"y":26,"g":"Middle"},{"x":4.1,"y":26,"g":"Middle"},
{"x":1.3,"y":25,"g":"Middle"},{"x":1.5,"y":25,"g":"Middle"},{"x":1.7,"y":25,"g":"Middle"},{"x":1.8,"y":25,"g":"Middle"},{"x":1.9,"y":25,"g":"Middle"},{"x":2.0,"y":25,"g":"Middle"},{"x":2.1,"y":25,"g":"Middle"},{"x":2.2,"y":25,"g":"Middle"},{"x":2.3,"y":25,"g":"Middle"},{"x":2.4,"y":25,"g":"Middle"},{"x":2.5,"y":25,"g":"Middle"},{"x":2.6,"y":25,"g":"Middle"},{"x":2.7,"y":25,"g":"Middle"},{"x":2.8,"y":25,"g":"Middle"},{"x":2.9,"y":25,"g":"Middle"},{"x":3.0,"y":25,"g":"Middle"},{"x":3.1,"y":25,"g":"Middle"},{"x":3.2,"y":25,"g":"Middle"},{"x":3.3,"y":25,"g":"Middle"},{"x":3.6,"y":25,"g":"Middle"},{"x":3.7,"y":25,"g":"Middle"},
{"x":1.2,"y":24,"g":"Middle"},{"x":1.4,"y":24,"g":"Middle"},{"x":1.6,"y":24,"g":"Middle"},{"x":1.7,"y":24,"g":"Middle"},{"x":1.8,"y":24,"g":"Middle"},{"x":1.9,"y":24,"g":"Middle"},{"x":2.0,"y":24,"g":"Middle"},{"x":2.1,"y":24,"g":"Middle"},{"x":2.2,"y":24,"g":"Middle"},{"x":2.3,"y":24,"g":"Middle"},{"x":2.4,"y":24,"g":"Middle"},{"x":2.5,"y":24,"g":"Middle"},{"x":2.6,"y":24,"g":"Middle"},{"x":2.7,"y":24,"g":"Middle"},{"x":2.8,"y":24,"g":"Middle"},{"x":2.9,"y":24,"g":"Middle"},{"x":3.0,"y":24,"g":"Middle"},{"x":3.1,"y":24,"g":"Middle"},{"x":3.2,"y":24,"g":"Middle"},{"x":3.3,"y":24,"g":"Middle"},{"x":3.4,"y":24,"g":"Middle"},
{"x":1.4,"y":23,"g":"Middle"},{"x":1.5,"y":23,"g":"Middle"},{"x":1.6,"y":23,"g":"Middle"},{"x":1.7,"y":23,"g":"Middle"},{"x":1.8,"y":23,"g":"Middle"},{"x":1.9,"y":23,"g":"Middle"},{"x":2.0,"y":23,"g":"Middle"},{"x":2.1,"y":23,"g":"Middle"},{"x":2.2,"y":23,"g":"Middle"},{"x":2.3,"y":23,"g":"Middle"},{"x":2.4,"y":23,"g":"Middle"},{"x":2.5,"y":23,"g":"Middle"},{"x":2.6,"y":23,"g":"Middle"},{"x":2.7,"y":23,"g":"Middle"},{"x":2.8,"y":23,"g":"Middle"},{"x":2.9,"y":23,"g":"Middle"},{"x":3.0,"y":23,"g":"Middle"},{"x":3.1,"y":23,"g":"Middle"},{"x":3.2,"y":23,"g":"Middle"},{"x":3.5,"y":23,"g":"Middle"},{"x":3.6,"y":23,"g":"Middle"},{"x":3.7,"y":23,"g":"Middle"},{"x":4.7,"y":23,"g":"Middle"},
{"x":2.7,"y":22,"g":"Middle"},
{"x":1.3,"y":22,"g":"Lower"},{"x":1.4,"y":22,"g":"Lower"},{"x":1.5,"y":22,"g":"Lower"},{"x":1.6,"y":22,"g":"Lower"},{"x":1.9,"y":22,"g":"Lower"},{"x":2.0,"y":22,"g":"Lower"},{"x":2.1,"y":22,"g":"Lower"},{"x":2.2,"y":22,"g":"Lower"},{"x":2.3,"y":22,"g":"Lower"},{"x":2.4,"y":22,"g":"Lower"},{"x":2.5,"y":22,"g":"Lower"},{"x":2.6,"y":22,"g":"Lower"},{"x":2.7,"y":22,"g":"Lower"},{"x":2.8,"y":22,"g":"Lower"},{"x":2.9,"y":22,"g":"Lower"},{"x":3.1,"y":22,"g":"Lower"},{"x":3.5,"y":22,"g":"Lower"},{"x":3.6,"y":22,"g":"Lower"},{"x":3.8,"y":22,"g":"Lower"},{"x":3.9,"y":22,"g":"Lower"},
{"x":1.1,"y":21,"g":"Lower"},{"x":1.3,"y":21,"g":"Lower"},{"x":1.4,"y":21,"g":"Lower"},{"x":1.5,"y":21,"g":"Lower"},{"x":1.6,"y":21,"g":"Lower"},{"x":1.7,"y":21,"g":"Lower"},{"x":1.8,"y":21,"g":"Lower"},{"x":1.9,"y":21,"g":"Lower"},{"x":2.0,"y":21,"g":"Lower"},{"x":2.1,"y":21,"g":"Lower"},{"x":2.2,"y":21,"g":"Lower"},{"x":2.3,"y":21,"g":"Lower"},{"x":2.4,"y":21,"g":"Lower"},{"x":2.5,"y":21,"g":"Lower"},{"x":2.6,"y":21,"g":"Lower"},{"x":2.7,"y":21,"g":"Lower"},{"x":2.8,"y":21,"g":"Lower"},{"x":2.9,"y":21,"g":"Lower"},{"x":3.1,"y":21,"g":"Lower"},{"x":3.2,"y":21,"g":"Lower"},{"x":3.3,"y":21,"g":"Lower"},{"x":3.4,"y":21,"g":"Lower"},{"x":3.5,"y":21,"g":"Lower"},
{"x":1.6,"y":20,"g":"Lower"},{"x":1.8,"y":20,"g":"Lower"},{"x":1.9,"y":20,"g":"Lower"},{"x":2.0,"y":20,"g":"Lower"},{"x":2.1,"y":20,"g":"Lower"},{"x":2.3,"y":20,"g":"Lower"},{"x":2.4,"y":20,"g":"Lower"},{"x":2.5,"y":20,"g":"Lower"},{"x":2.6,"y":20,"g":"Lower"},{"x":2.7,"y":20,"g":"Lower"},{"x":2.8,"y":20,"g":"Lower"},{"x":2.9,"y":20,"g":"Lower"},{"x":3.0,"y":20,"g":"Lower"},{"x":3.1,"y":20,"g":"Lower"},{"x":3.3,"y":20,"g":"Lower"},{"x":3.6,"y":20,"g":"Lower"},
{"x":1.6,"y":19,"g":"Lower"},{"x":1.8,"y":19,"g":"Lower"},{"x":1.9,"y":19,"g":"Lower"},{"x":2.0,"y":19,"g":"Lower"},{"x":2.1,"y":19,"g":"Lower"},{"x":2.2,"y":19,"g":"Lower"},{"x":2.3,"y":19,"g":"Lower"},{"x":2.4,"y":19,"g":"Lower"},{"x":2.5,"y":19,"g":"Lower"},{"x":2.6,"y":19,"g":"Lower"},{"x":2.7,"y":19,"g":"Lower"},{"x":2.9,"y":19,"g":"Lower"},{"x":3.0,"y":19,"g":"Lower"},{"x":3.1,"y":19,"g":"Lower"},{"x":3.5,"y":19,"g":"Lower"},{"x":3.7,"y":19,"g":"Lower"},
{"x":1.6,"y":18,"g":"Lower"},{"x":1.8,"y":18,"g":"Lower"},{"x":1.9,"y":18,"g":"Lower"},{"x":2.0,"y":18,"g":"Lower"},{"x":2.2,"y":18,"g":"Lower"},{"x":2.3,"y":18,"g":"Lower"},{"x":2.4,"y":18,"g":"Lower"},{"x":2.5,"y":18,"g":"Lower"},{"x":2.8,"y":18,"g":"Lower"},{"x":3.3,"y":18,"g":"Lower"},
{"x":2.0,"y":17,"g":"Lower"},{"x":2.4,"y":17,"g":"Lower"},{"x":2.5,"y":17,"g":"Lower"},{"x":2.6,"y":17,"g":"Lower"},{"x":2.8,"y":17,"g":"Lower"},{"x":2.9,"y":17,"g":"Lower"},{"x":3.0,"y":17,"g":"Lower"},{"x":3.1,"y":17,"g":"Lower"},{"x":3.6,"y":17,"g":"Lower"},
{"x":1.4,"y":16,"g":"Lower"},{"x":1.8,"y":16,"g":"Lower"},{"x":1.9,"y":16,"g":"Lower"},{"x":2.0,"y":16,"g":"Lower"},{"x":2.1,"y":16,"g":"Lower"},{"x":2.2,"y":16,"g":"Lower"},{"x":2.3,"y":16,"g":"Lower"},{"x":2.4,"y":16,"g":"Lower"},{"x":2.5,"y":16,"g":"Lower"},{"x":2.6,"y":16,"g":"Lower"},{"x":2.7,"y":16,"g":"Lower"},{"x":2.9,"y":16,"g":"Lower"},{"x":3.0,"y":16,"g":"Lower"},{"x":3.5,"y":16,"g":"Lower"},{"x":4.0,"y":16,"g":"Lower"},
{"x":2.0,"y":15,"g":"Lower"},{"x":2.2,"y":15,"g":"Lower"},{"x":2.4,"y":15,"g":"Lower"},{"x":2.5,"y":15,"g":"Lower"},{"x":2.9,"y":15,"g":"Lower"},{"x":3.0,"y":15,"g":"Lower"},{"x":3.1,"y":15,"g":"Lower"},
{"x":1.5,"y":14,"g":"Lower"},{"x":2.0,"y":14,"g":"Lower"},{"x":2.3,"y":14,"g":"Lower"},{"x":2.5,"y":14,"g":"Lower"},{"x":2.8,"y":14,"g":"Lower"},{"x":2.9,"y":14,"g":"Lower"},{"x":3.3,"y":14,"g":"Lower"},{"x":3.9,"y":14,"g":"Lower"},
{"x":1.4,"y":13,"g":"Lower"},{"x":1.7,"y":13,"g":"Lower"},{"x":1.9,"y":13,"g":"Lower"},{"x":2.7,"y":13,"g":"Lower"},{"x":2.8,"y":13,"g":"Lower"},{"x":2.9,"y":13,"g":"Lower"},{"x":3.0,"y":13,"g":"Lower"},{"x":3.3,"y":13,"g":"Lower"},{"x":3.4,"y":13,"g":"Lower"},{"x":3.7,"y":13,"g":"Lower"},
{"x":1.8,"y":12,"g":"Lower"},{"x":2.8,"y":12,"g":"Lower"},{"x":3.0,"y":12,"g":"Lower"},{"x":3.6,"y":12,"g":"Lower"},{"x":3.7,"y":12,"g":"Lower"},
{"x":1.6,"y":11,"g":"Lower"},{"x":2.2,"y":11,"g":"Lower"},{"x":3.1,"y":11,"g":"Lower"},
{"x":3.1,"y":10,"g":"Lower"},{"x":3.8,"y":10,"g":"Lower"},
{"x":2.3,"y":9,"g":"Lower"},{"x":2.8,"y":9,"g":"Lower"},
{"x":1.6,"y":8,"g":"Lower"},{"x":2.5,"y":8,"g":"Lower"},{"x":2.7,"y":8,"g":"Lower"},{"x":3.0,"y":8,"g":"Lower"},{"x":3.2,"y":8,"g":"Lower"},
{"x":1.8,"y":7,"g":"Lower"},{"x":3.5,"y":7,"g":"Lower"},
{"x":3.1,"y":6,"g":"Lower"},{"x":2.7,"y":5,"g":"Lower"}
],
"priLines":[
{"x":0.778,"y":30.7,"g":"Upper_","id":"U0"},{"x":5.249,"y":30.75,"g":"Upper_","id":"U0"},
{"x":1,"y":31.05,"g":"Upper_","id":"U1"},{"x":4.63,"y":31.6,"g":"Upper_","id":"U1"},
{"x":1,"y":30.3,"g":"Upper_","id":"U2"},{"x":4.63,"y":29.95,"g":"Upper_","id":"U2"},
{"x":0.778,"y":25.9,"g":"Middle_","id":"M0"},{"x":5.249,"y":25.85,"g":"Middle_","id":"M0"},
{"x":1,"y":26.28,"g":"Middle_","id":"M1"},{"x":4.63,"y":26.5,"g":"Middle_","id":"M1"},
{"x":1,"y":25.6,"g":"Middle_","id":"M2"},{"x":4.63,"y":25.2,"g":"Middle_","id":"M2"},
{"x":0.778,"y":21.44,"g":"Lower_","id":"L0"},{"x":5.249,"y":12.5,"g":"Lower_","id":"L0"},
{"x":1,"y":22.1,"g":"Lower_","id":"L1"},{"x":1.8,"y":20.07,"g":"Lower_","id":"L1"},{"x":2.6,"y":18.15,"g":"Lower_","id":"L1"},{"x":3.4,"y":16.87,"g":"Lower_","id":"L1"},{"x":4.0,"y":16.05,"g":"Lower_","id":"L1"},{"x":4.63,"y":15.2,"g":"Lower_","id":"L1"},
{"x":1,"y":19.8,"g":"Lower_","id":"L2"},{"x":1.8,"y":18.73,"g":"Lower_","id":"L2"},{"x":2.6,"y":17.45,"g":"Lower_","id":"L2"},{"x":3.4,"y":15.53,"g":"Lower_","id":"L2"},{"x":4.0,"y":13.95,"g":"Lower_","id":"L2"},{"x":4.63,"y":12.15,"g":"Lower_","id":"L2"}
],
"secLines":[
{"x":0.774,"y":30.65,"g":"Upper_","id":"U0"},{"x":5.22,"y":30.85,"g":"Upper_","id":"U0"},
{"x":1,"y":31.15,"g":"Upper_","id":"U1"},{"x":4.69,"y":31.68,"g":"Upper_","id":"U1"},
{"x":1,"y":30.13,"g":"Upper_","id":"U2"},{"x":4.69,"y":29.96,"g":"Upper_","id":"U2"},
{"x":0.774,"y":25.85,"g":"Middle_","id":"M0"},{"x":5.22,"y":25.85,"g":"Middle_","id":"M0"},
{"x":1,"y":26.4,"g":"Middle_","id":"M1"},{"x":4.69,"y":26.44,"g":"Middle_","id":"M1"},
{"x":1,"y":25.45,"g":"Middle_","id":"M2"},{"x":4.69,"y":25.1,"g":"Middle_","id":"M2"},
{"x":0.774,"y":20.33,"g":"Lower_","id":"L0"},{"x":5.22,"y":14.08,"g":"Lower_","id":"L0"},
{"x":1,"y":21.3,"g":"Lower_","id":"L1"},{"x":1.7,"y":19.75,"g":"Lower_","id":"L1"},{"x":2.48,"y":18.23,"g":"Lower_","id":"L1"},{"x":3.3,"y":17.53,"g":"Lower_","id":"L1"},{"x":4.0,"y":17.1,"g":"Lower_","id":"L1"},{"x":4.69,"y":16.6,"g":"Lower_","id":"L1"},
{"x":1,"y":18.7,"g":"Lower_","id":"L2"},{"x":1.7,"y":18.31,"g":"Lower_","id":"L2"},{"x":2.48,"y":17.63,"g":"Lower_","id":"L2"},{"x":3.3,"y":16.03,"g":"Lower_","id":"L2"},{"x":4.0,"y":14.48,"g":"Lower_","id":"L2"},{"x":4.69,"y":12.97,"g":"Lower_","id":"L2"}
],
"priTot":[{"x":0.778,"y":28.57},{"x":5.249,"y":17.44}],
"secTot":[{"x":0.774,"y":27.14},{"x":5.22,"y":21.09}],
"priLab":[{"x":3.0,"y":23.08,"label":"y=30.51-2.49*x"}],
"secLab":[{"x":3.01,"y":24.1,"label":"y=28.19-1.36*x"}],
"priR2":[{"x":5.249,"y":25.6,"label":"R² Linear = 0.091"}],
"secR2":[{"x":5.22,"y":25.45,"label":"R² Linear = 0.022"}]
},
"hconcat":[
{
"width":503,"height":388,
"layer":[
{"data":{"name":"pri"},
 "mark":{"type":"point","filled":true,"size":45,"strokeWidth":1.1,"opacity":1},
 "encoding":{
  "x":{"field":"x","type":"quantitative","scale":{"domain":[0.778,5.249],"nice":false,"zero":false},"axis":{"values":[1,2,3,4,5],"format":"d","title":"Primary Psychopathy (Self Report)","labelPadding":4,"titlePadding":12}},
  "y":{"field":"y","type":"quantitative","scale":{"domain":[-2,38],"nice":false,"zero":false},"axis":{"values":[0,6,12,18,24,30,36],"title":"RMET Total Score","labelPadding":5,"titlePadding":15}},
  "shape":{"field":"g","type":"nominal","scale":{"domain":["Upper","Lower","Middle","Upper_","Lower_","Middle_"],"range":["M0,-0.62L0.68,0.55L-0.68,0.55Z","M0,0.62L0.68,-0.55L-0.68,-0.55Z","M0,-1L1,0L0,1L-1,0Z","M-1.8,-0.75L1.3,0.75","M-1.8,-0.75L1.3,0.75","M-1.8,-0.75L1.3,0.75"]},"legend":{"title":"Group","labelExpr":"replace(datum.label,'_','')"}},
  "fill":{"field":"g","type":"nominal","scale":{"domain":["Upper","Lower","Middle","Upper_","Lower_","Middle_"],"range":["#1b2a6e","#e05a2d","transparent","transparent","transparent","transparent"]},"legend":{"title":"Group","labelExpr":"replace(datum.label,'_','')"}},
  "stroke":{"field":"g","type":"nominal","scale":{"domain":["Upper","Lower","Middle","Upper_","Lower_","Middle_"],"range":["#1b2a6e","#e05a2d","#3f9a3f","#8db8ec","#e8436a","#5cab52"]},"legend":{"title":"Group","labelExpr":"replace(datum.label,'_','')"}}
 }},
{"data":{"name":"priLines"},
 "mark":{"type":"line","strokeWidth":1.2,"interpolate":"monotone"},
 "encoding":{
  "x":{"field":"x","type":"quantitative"},
  "y":{"field":"y","type":"quantitative"},
  "detail":{"field":"id"},
  "stroke":{"field":"g","type":"nominal","scale":{"domain":["Upper","Lower","Middle","Upper_","Lower_","Middle_"],"range":["#1b2a6e","#e05a2d","#3f9a3f","#8db8ec","#e8436a","#5cab52"]},"legend":{"title":"Group","labelExpr":"replace(datum.label,'_','')"}}
 }},
{"data":{"name":"priTot"},
 "mark":{"type":"line","color":"#4d4d4d","strokeWidth":1.2},
 "encoding":{"x":{"field":"x","type":"quantitative"},"y":{"field":"y","type":"quantitative"}}},
{"data":{"name":"priLab"},
 "mark":{"type":"point","shape":"M-1,-0.155H1V0.155H-1Z","size":8464,"filled":true,"fill":"white","stroke":"#555555","strokeWidth":1,"opacity":1},
 "encoding":{"x":{"field":"x","type":"quantitative"},"y":{"field":"y","type":"quantitative"}}},
{"data":{"name":"priLab"},
 "mark":{"type":"text","fontSize":11.5,"color":"#111111","font":"Liberation Sans"},
 "encoding":{"x":{"field":"x","type":"quantitative"},"y":{"field":"y","type":"quantitative"},"text":{"field":"label"}}},
{"data":{"name":"priR2"},
 "mark":{"type":"text","fontSize":10,"align":"left","dx":1,"color":"#111111","font":"Liberation Sans"},
 "encoding":{"x":{"field":"x","type":"quantitative"},"y":{"field":"y","type":"quantitative"},"text":{"field":"label"}}}
]
},
{
"width":503,"height":379,
"layer":[
{"data":{"name":"sec"},
 "mark":{"type":"point","filled":true,"size":45,"strokeWidth":1.1,"opacity":1},
 "encoding":{
  "x":{"field":"x","type":"quantitative","scale":{"domain":[0.774,5.22],"nice":false,"zero":false},"axis":{"values":[1,2,3,4,5],"format":"d","title":"Secondary Psychopathy (Self Report)","labelPadding":4,"titlePadding":12}},
  "y":{"field":"y","type":"quantitative","scale":{"domain":[-1.9,38.08],"nice":false,"zero":false},"axis":{"values":[0,6,12,18,24,30,36],"title":"RMET Total Score","labelPadding":5,"titlePadding":15}},
  "shape":{"field":"g","type":"nominal","scale":{"domain":["Upper","Lower","Middle","Upper_","Lower_","Middle_"],"range":["M0,-0.62L0.68,0.55L-0.68,0.55Z","M0,0.62L0.68,-0.55L-0.68,-0.55Z","M0,-1L1,0L0,1L-1,0Z","M-1.8,-0.75L1.3,0.75","M-1.8,-0.75L1.3,0.75","M-1.8,-0.75L1.3,0.75"]},"legend":{"title":"Group","labelExpr":"replace(datum.label,'_','')"}},
  "fill":{"field":"g","type":"nominal","scale":{"domain":["Upper","Lower","Middle","Upper_","Lower_","Middle_"],"range":["#1b2a6e","#e05a2d","transparent","transparent","transparent","transparent"]},"legend":{"title":"Group","labelExpr":"replace(datum.label,'_','')"}},
  "stroke":{"field":"g","type":"nominal","scale":{"domain":["Upper","Lower","Middle","Upper_","Lower_","Middle_"],"range":["#1b2a6e","#e05a2d","#3f9a3f","#8db8ec","#e8436a","#5cab52"]},"legend":{"title":"Group","labelExpr":"replace(datum.label,'_','')"}}
 }},
{"data":{"name":"secLines"},
 "mark":{"type":"line","strokeWidth":1.2,"interpolate":"monotone"},
 "encoding":{
  "x":{"field":"x","type":"quantitative"},
  "y":{"field":"y","type":"quantitative"},
  "detail":{"field":"id"},
  "stroke":{"field":"g","type":"nominal","scale":{"domain":["Upper","Lower","Middle","Upper_","Lower_","Middle_"],"range":["#1b2a6e","#e05a2d","#3f9a3f","#8db8ec","#e8436a","#5cab52"]},"legend":{"title":"Group","labelExpr":"replace(datum.label,'_','')"}}
 }},
{"data":{"name":"secTot"},
 "mark":{"type":"line","color":"#4d4d4d","strokeWidth":1.2},
 "encoding":{"x":{"field":"x","type":"quantitative"},"y":{"field":"y","type":"quantitative"}}},
{"data":{"name":"secLab"},
 "mark":{"type":"point","shape":"M-1,-0.16H1V0.16H-1Z","size":8649,"filled":true,"fill":"white","stroke":"#555555","strokeWidth":1,"opacity":1},
 "encoding":{"x":{"field":"x","type":"quantitative"},"y":{"field":"y","type":"quantitative"}}},
{"data":{"name":"secLab"},
 "mark":{"type":"text","fontSize":11.5,"color":"#111111","font":"Liberation Sans"},
 "encoding":{"x":{"field":"x","type":"quantitative"},"y":{"field":"y","type":"quantitative"},"text":{"field":"label"}}},
{"data":{"name":"secR2"},
 "mark":{"type":"text","fontSize":10,"align":"left","dx":1,"color":"#111111","font":"Liberation Sans"},
 "encoding":{"x":{"field":"x","type":"quantitative"},"y":{"field":"y","type":"quantitative"},"text":{"field":"label"}}}
]
}
],
"resolve":{"scale":{"shape":"independent","fill":"independent","stroke":"independent"},"legend":{"shape":"independent","fill":"independent","stroke":"independent"}}
}
